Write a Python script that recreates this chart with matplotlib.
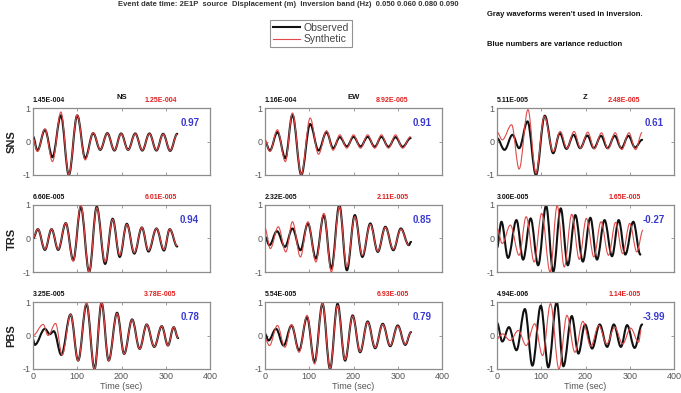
import matplotlib
matplotlib.use("Agg")
import matplotlib.pyplot as plt
from matplotlib.path import Path
from matplotlib.patches import PathPatch
from matplotlib.lines import Line2D

plt.rcParams["axes.unicode_minus"] = False

# ---- data: waveform turning points (time in s, normalised amplitude) ----
stations = ["SNS", "TRS", "PBS"]
components = ["NS", "EW", "Z"]

sns_ns_obs = [(0, 0.15), (10, -0.27), (27, 0.35), (44, -0.47), (63, 0.78), (81, -1.0),
              (100, 0.78), (118, -0.5), (136, 0.25), (152, -0.25), (168, 0.25), (184, -0.27),
              (199, 0.24), (215, -0.25), (231, 0.24), (247, -0.27), (263, 0.24), (279, -0.27),
              (294, 0.23), (310, -0.28), (326, 0.23)]
sns_ns_syn = [(0, 0.1), (10, -0.3), (27, 0.38), (44, -0.6), (63, 0.88), (81, -0.98),
              (100, 0.8), (118, -0.55), (136, 0.26), (152, -0.24), (168, 0.24), (184, -0.26),
              (199, 0.23), (215, -0.25), (231, 0.23), (247, -0.26), (263, 0.23), (279, -0.26),
              (294, 0.22), (310, -0.27), (326, 0.22)]

sns_ew_obs = [(0, 0.0), (11, -0.27), (28, 0.28), (46, -0.5), (62, 0.8), (82, -1.0),
              (102, 0.52), (121, -0.27), (139, 0.28), (154, -0.2), (169, 0.13), (185, -0.15),
              (200, 0.14), (216, -0.15), (232, 0.14), (248, -0.16), (263, 0.14), (279, -0.16),
              (295, 0.13), (311, -0.16), (329, 0.1)]
sns_ew_syn = [(0, 0.05), (11, -0.3), (28, 0.35), (46, -0.6), (62, 0.85), (82, -0.98),
              (102, 0.7), (121, -0.38), (139, 0.32), (154, -0.26), (169, 0.2), (185, -0.2),
              (200, 0.2), (216, -0.2), (232, 0.2), (248, -0.2), (263, 0.2), (279, -0.2),
              (295, 0.2), (311, -0.2), (329, 0.15)]

sns_z_obs = [(0, 0.1), (17, -0.25), (35, 0.2), (50, -0.2), (69, 0.6), (88, -1.0),
             (108, 0.77), (127, -0.35), (142, 0.25), (157, -0.22), (173, 0.2), (188, -0.2),
             (204, 0.18), (219, -0.2), (235, 0.17), (250, -0.2), (266, 0.17), (281, -0.2),
             (297, 0.17), (312, -0.18), (328, 0.05)]
sns_z_syn = [(0, 0.28), (12, 0.05), (33, 0.5), (50, -0.82), (70, 0.95), (88, -0.95),
             (107, 0.75), (127, -0.3), (143, 0.3), (158, -0.2), (174, 0.3), (189, -0.2),
             (205, 0.28), (220, -0.22), (236, 0.26), (251, -0.22), (267, 0.26), (282, -0.24),
             (298, 0.26), (313, -0.24), (328, 0.27)]

trs_ns_obs = [(0, 0.0), (11, 0.28), (27, -0.34), (42, 0.28), (57, -0.34), (74, 0.46),
              (91, -0.65), (108, 0.95), (127, -1.0), (144, 0.95), (163, -0.76), (180, 0.59),
              (196, -0.55), (212, 0.44), (229, -0.45), (246, 0.33), (261, -0.39), (279, 0.3),
              (296, -0.36), (309, 0.28), (326, -0.24)]
trs_ns_syn = [(0, 0.02), (11, 0.28), (27, -0.32), (42, 0.28), (57, -0.32), (74, 0.46),
              (91, -0.68), (108, 1.0), (127, -1.0), (144, 0.92), (163, -0.7), (180, 0.57),
              (196, -0.5), (212, 0.42), (229, -0.42), (246, 0.33), (261, -0.36), (279, 0.3),
              (296, -0.33), (309, 0.28), (326, -0.22)]

trs_ew_obs = [(0, 0.05), (10, -0.2), (27, 0.22), (45, -0.25), (62, 0.3), (80, -0.35),
              (97, 0.45), (115, -0.6), (133, 0.7), (150, -0.9), (168, 1.0), (185, -0.95),
              (203, 0.7), (220, -0.55), (238, 0.45), (255, -0.4), (272, 0.35), (290, -0.35),
              (307, 0.3), (325, -0.2), (330, -0.1)]
trs_ew_syn = [(0, 0.3), (12, -0.3), (30, 0.35), (47, -0.4), (62, 0.5), (80, -0.55),
              (97, 0.5), (115, -0.7), (133, 0.75), (150, -1.0), (168, 0.95), (185, -0.85),
              (203, 0.65), (220, -0.5), (238, 0.42), (255, -0.38), (272, 0.33), (290, -0.32),
              (307, 0.28), (325, -0.2)]

trs_z_obs = [(0, -0.28), (10, 0.5), (25, -0.58), (44, 0.55), (59, -0.63), (76, 0.6),
             (93, -0.8), (111, 0.98), (127, -1.0), (144, 0.9), (160, -0.8), (177, 0.7),
             (194, -0.69), (211, 0.62), (226, -0.63), (243, 0.55), (260, -0.53), (275, 0.55),
             (290, -0.48), (308, 0.5), (324, -0.48)]
trs_z_syn = [(0, 0.3), (12, -0.15), (30, 0.4), (50, -0.5), (66, 0.65), (84, -0.7),
             (101, 0.75), (120, -1.0), (136, 0.98), (152, -0.85), (169, 0.72), (186, -0.62),
             (202, 0.6), (219, -0.55), (235, 0.5), (252, -0.5), (268, 0.48), (284, -0.45),
             (300, 0.45), (316, -0.4), (330, 0.25)]

pbs_ns_obs = [(0, -0.12), (4, -0.28), (27, 0.2), (38, 0.04), (47, 0.13), (64, -0.58),
              (85, 0.63), (102, -0.75), (121, 0.94), (139, -1.0), (155, 0.98), (171, -0.75),
              (190, 0.68), (206, -0.55), (224, 0.48), (241, -0.4), (257, 0.33), (274, -0.34),
              (291, 0.28), (305, -0.3), (318, 0.25), (328, -0.08)]
pbs_ns_syn = [(0, 0.0), (23, 0.33), (34, 0.0), (51, 0.36), (66, -0.58),
              (85, 0.63), (102, -0.75), (121, 0.96), (139, -1.0), (155, 0.98), (171, -0.75),
              (190, 0.66), (206, -0.55), (224, 0.47), (241, -0.4), (257, 0.33), (274, -0.33),
              (291, 0.28), (305, -0.3), (318, 0.25), (328, -0.08)]

pbs_ew_obs = [(0, 0.05), (8, -0.15), (25, 0.2), (42, -0.3), (60, 0.3), (77, -0.45),
              (95, 0.55), (112, -0.8), (130, 0.95), (147, -1.0), (164, 0.95), (181, -0.75),
              (198, 0.6), (215, -0.5), (232, 0.42), (249, -0.38), (266, 0.35), (283, -0.32),
              (300, 0.3), (317, -0.28), (330, 0.1)]
pbs_ew_syn = [(0, -0.1), (10, -0.3), (28, 0.3), (45, -0.35), (60, 0.32), (77, -0.5),
              (95, 0.6), (112, -0.85), (130, 0.95), (147, -0.98), (164, 0.9), (181, -0.72),
              (198, 0.58), (215, -0.48), (232, 0.4), (249, -0.36), (266, 0.33), (283, -0.3),
              (300, 0.28), (317, -0.26), (330, 0.1)]

pbs_z_obs = [(0, 0.38), (12, -0.18), (27, 0.25), (44, -0.44), (63, 0.79), (80, -0.9),
             (99, 0.89), (116, -0.95), (135, 1.0), (150, -0.92), (169, 0.58), (184, -0.54),
             (199, 0.33), (215, -0.39), (232, 0.33), (249, -0.34), (264, 0.33), (280, -0.34),
             (294, 0.31), (311, -0.37), (328, 0.33)]
pbs_z_syn = [(0, -0.1), (12, 0.05), (30, -0.15), (48, 0.15), (66, -0.3), (85, 0.35),
             (103, -0.6), (121, 0.95), (140, -1.0), (158, 0.6), (176, -0.5), (194, 0.42),
             (212, -0.32), (230, 0.3), (248, -0.25), (266, 0.25), (284, -0.25), (302, 0.22),
             (320, -0.2), (326, 0.17)]

observed = [[sns_ns_obs, sns_ew_obs, sns_z_obs],
            [trs_ns_obs, trs_ew_obs, trs_z_obs],
            [pbs_ns_obs, pbs_ew_obs, pbs_z_obs]]
synthetic = [[sns_ns_syn, sns_ew_syn, sns_z_syn],
             [trs_ns_syn, trs_ew_syn, trs_z_syn],
             [pbs_ns_syn, pbs_ew_syn, pbs_z_syn]]

obs_max = [["1.45E-004", "1.16E-004", "5.11E-005"],
           ["6.60E-005", "2.32E-005", "3.00E-005"],
           ["3.25E-005", "5.54E-005", "4.94E-006"]]
syn_max = [["1.25E-004", "8.92E-005", "2.48E-005"],
           ["6.01E-005", "2.11E-005", "1.65E-005"],
           ["3.78E-005", "6.93E-005", "1.14E-005"]]
var_red = [["0.97", "0.91", "0.61"],
           ["0.94", "0.85", "-0.27"],
           ["0.78", "0.79", "-3.99"]]

x_ticks = [0, 100, 200, 300, 400]
y_ticks = [-1, 0, 1]

# ---- styling ----
NARROW = ["Liberation Sans Narrow", "Liberation Sans", "DejaVu Sans"]
SANS = ["Liberation Sans", "DejaVu Sans"]
OBS_COLOR = "#111111"
SYN_COLOR = "#e04a4a"
FRAME = "#8c8c8c"
TICKTXT = "#555555"


def smooth_trace(ax, pts, **kw):
    """Draw a smooth curve through successive turning points with cubic Bezier segments."""
    verts = [pts[0]]
    codes = [Path.MOVETO]
    for (t0, a0), (t1, a1) in zip(pts[:-1], pts[1:]):
        d = t1 - t0
        verts += [(t0 + 0.36 * d, a0), (t1 - 0.36 * d, a1), (t1, a1)]
        codes += [Path.CURVE4] * 3
    ax.add_patch(PathPatch(Path(verts, codes), fill=False, **kw))


fig = plt.figure(figsize=(6.81, 3.93), dpi=100)

lefts = [33 / 681, 265 / 681, 497 / 681]
bottoms = [1 - 175 / 393, 1 - 272 / 393, 1 - 369 / 393]
w = 177 / 681
h = 67 / 393

for r in range(3):
    for c in range(3):
        ax = fig.add_axes([lefts[c], bottoms[r], w, h])
        smooth_trace(ax, observed[r][c], edgecolor=OBS_COLOR, lw=1.5, zorder=2,
                     capstyle="round", joinstyle="round")
        smooth_trace(ax, synthetic[r][c], edgecolor=SYN_COLOR, lw=0.8, zorder=3)
        ax.set_xlim(0, 400)
        ax.set_ylim(-1, 1)
        ax.set_xticks(x_ticks)
        ax.set_yticks(y_ticks)
        ax.tick_params(direction="in", length=2, width=0.6, color=FRAME,
                       labelsize=6.5, labelcolor=TICKTXT, pad=2,
                       top=True, right=True)
        for lab in ax.get_yticklabels() + ax.get_xticklabels():
            lab.set_family(SANS)
        if r < 2:
            ax.set_xticklabels([])
        else:
            ax.set_xlabel("Time (sec)", fontsize=6.5, color=TICKTXT, family=SANS, labelpad=1)
        for s in ax.spines.values():
            s.set_color(FRAME)
            s.set_linewidth(0.9)
        if c == 0:
            ax.set_ylabel(stations[r], fontsize=8, fontweight="bold", family=SANS,
                          labelpad=4, color="#222222")
        ax.text(0.0, 1.06, obs_max[r][c], transform=ax.transAxes, fontsize=5,
                fontweight="bold", family=NARROW, color="#111111", ha="left", va="bottom")
        ax.text(0.72, 1.06, syn_max[r][c], transform=ax.transAxes, fontsize=5,
                fontweight="bold", family=NARROW, color="#e02020", ha="center", va="bottom")
        if r == 0:
            ax.text(0.5, 1.1, components[c], transform=ax.transAxes, fontsize=5.5,
                    fontweight="bold", family=SANS, color="#111111", ha="center", va="bottom")
        ax.text(0.885, 0.78, var_red[r][c], transform=ax.transAxes, fontsize=7,
                fontweight="bold", family=SANS, color="#3a3ad0", ha="center", va="center")

# header lines along the top edge
fig.text(118 / 681, 0.998, "Event date time: 2E1P  source", fontsize=5.5,
         fontweight="bold", family=NARROW, color="#333333", ha="left", va="top")
fig.text(232 / 681, 0.998, "Displacement (m)  Inversion band (Hz)  0.050 0.060 0.080 0.090",
         fontsize=5.5, fontweight="bold", family=NARROW, color="#333333", ha="left", va="top")

fig.text(487 / 681, 1 - 14 / 393, "Gray waveforms weren't used in inversion.", fontsize=5.5,
         fontweight="bold", family=NARROW, color="#111111", ha="left", va="center")
fig.text(487 / 681, 1 - 45 / 393, "Blue numbers are variance reduction", fontsize=5.5,
         fontweight="bold", family=NARROW, color="#111111", ha="left", va="center")

handles = [Line2D([], [], color=OBS_COLOR, lw=1.5), Line2D([], [], color=SYN_COLOR, lw=0.8)]
leg = fig.legend(handles, ["Observed", "Synthetic"], loc="center",
                 bbox_to_anchor=(311 / 681, 1 - 33.5 / 393), frameon=True, fancybox=False,
                 prop={"family": NARROW, "size": 7.5}, handlelength=2.6, handletextpad=0.3,
                 borderpad=0.3, labelspacing=0.15)
leg.get_frame().set_edgecolor("#777777")
leg.get_frame().set_linewidth(0.8)
for t in leg.get_texts():
    t.set_color("#444444")

fig.savefig("out.png", dpi=100, facecolor="white")
